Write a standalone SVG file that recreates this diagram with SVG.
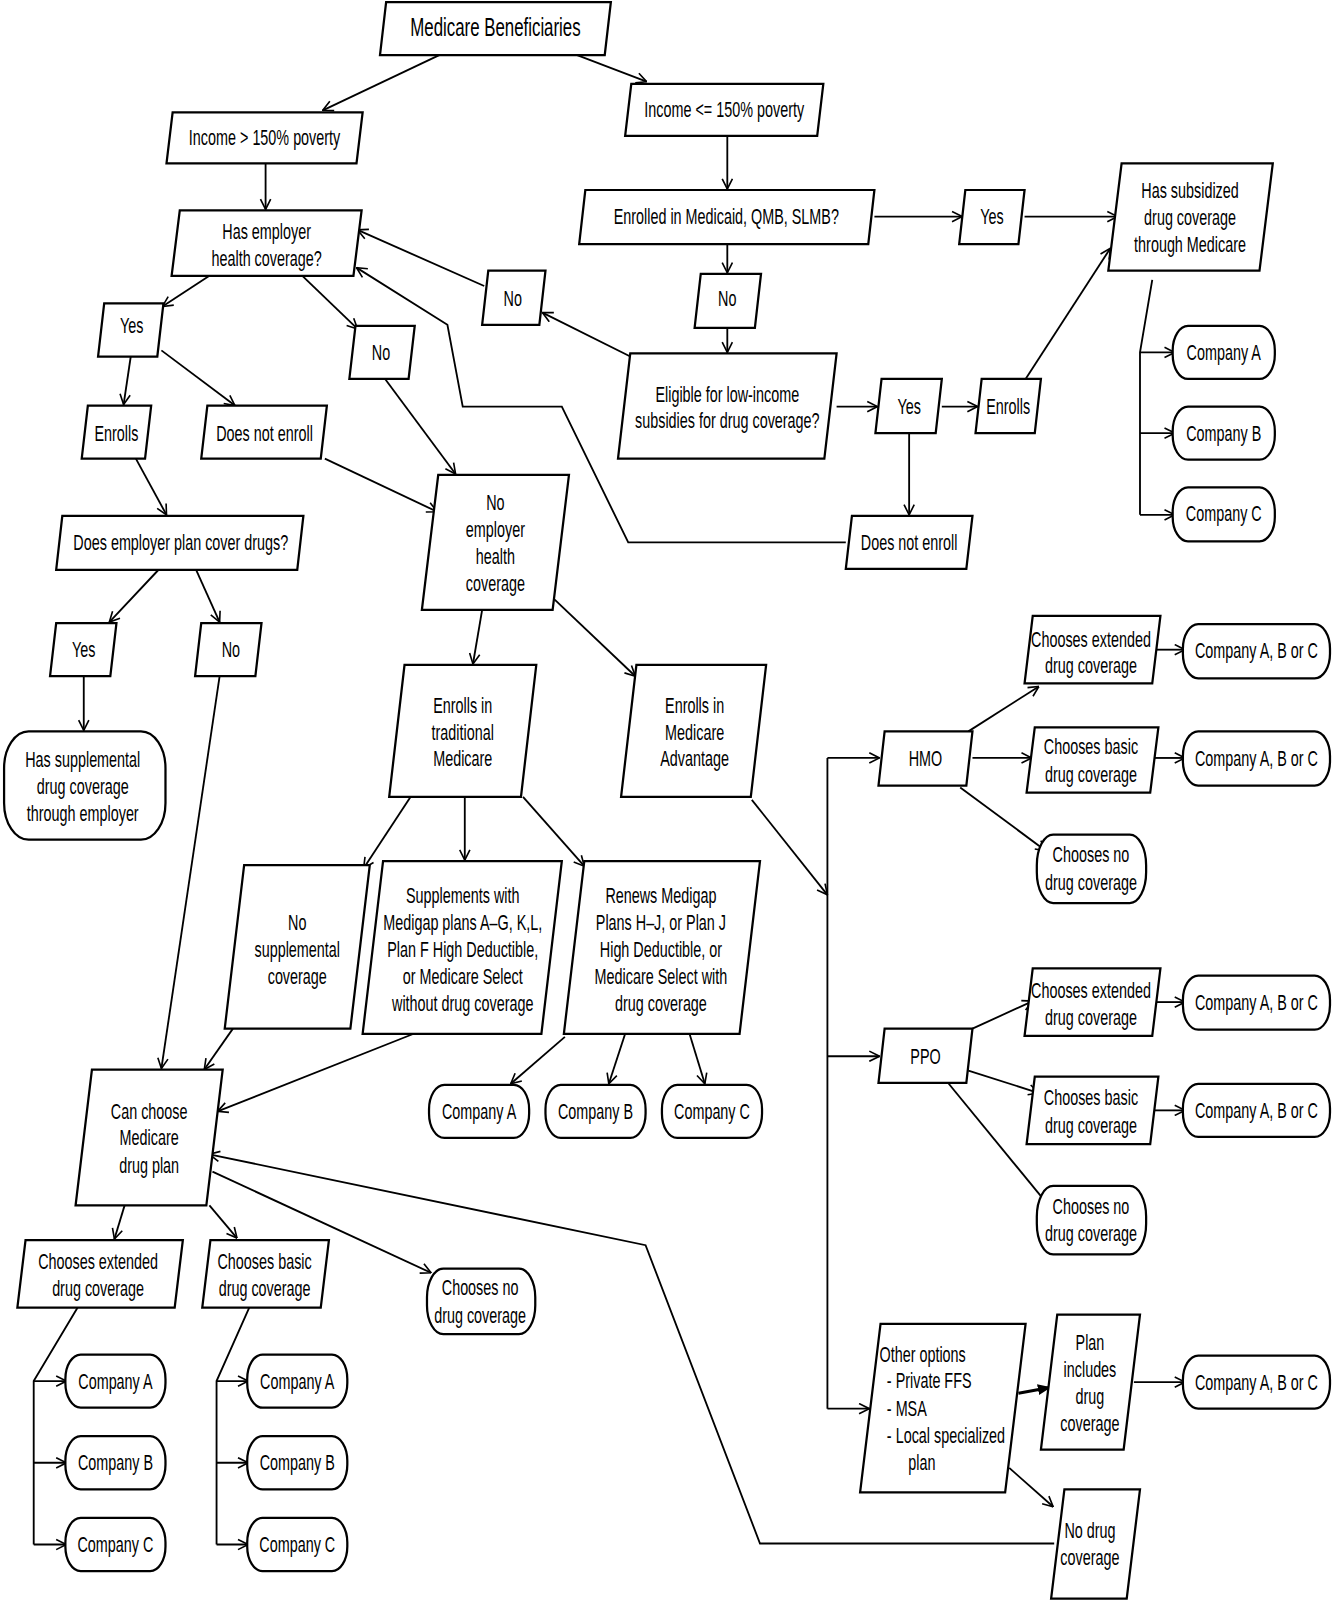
<svg xmlns="http://www.w3.org/2000/svg" width="1333" height="1600" viewBox="0 0 1333 1600">
<style>
.n{fill:#fff;stroke:#000;stroke-width:2.2;stroke-linejoin:miter}
.c{fill:none;stroke:#000;stroke-width:1.8;marker-end:url(#a)}
.l{fill:none;stroke:#000;stroke-width:1.8}
.f{fill:none;stroke:#000;stroke-width:3;marker-end:url(#b)}
text{font-family:"Liberation Sans",Arial,sans-serif;font-size:21.5px;text-anchor:middle;dominant-baseline:central;fill:#000}
.big{font-size:25px}
.s{text-anchor:start}
</style>
<defs>
<marker id="a" viewBox="0 0 12 12" refX="11.5" refY="6" markerWidth="12" markerHeight="12" markerUnits="userSpaceOnUse" orient="auto">
<path d="M1.5,1 L11.5,6 L1.5,11" fill="none" stroke="#000" stroke-width="1.6"/>
</marker>
<marker id="b" viewBox="0 0 12 12" refX="12" refY="6" markerWidth="13" markerHeight="13" markerUnits="userSpaceOnUse" orient="auto">
<path d="M0,1 L12,6 L0,11 Z" fill="#000"/>
</marker>
</defs>
<rect width="1333" height="1600" fill="#fff"/>
<g transform="scale(1.0215)">
<g id="connectors">
<line class="c" x1="430" y1="54" x2="316" y2="108"/>
<line class="c" x1="565" y1="54" x2="633" y2="80"/>
<line class="c" x1="260" y1="160" x2="260" y2="205"/>
<line class="c" x1="712" y1="133" x2="712" y2="185"/>
<line class="c" x1="856" y1="212" x2="942" y2="212"/>
<line class="c" x1="1003" y1="212" x2="1094" y2="212"/>
<line class="c" x1="712" y1="239" x2="712" y2="267"/>
<line class="c" x1="712" y1="321" x2="712" y2="345"/>
<line class="c" x1="619" y1="350" x2="531" y2="306"/>
<line class="c" x1="474" y1="280" x2="350" y2="225"/>
<path class="c" d="M828,531 L615,531 L550,398 L453,398 L438,318 L349,262"/>
<line class="c" x1="819" y1="398" x2="859" y2="398"/>
<line class="c" x1="922" y1="398" x2="957" y2="398"/>
<line class="c" x1="1004" y1="371" x2="1087" y2="243"/>
<line class="c" x1="890" y1="424" x2="890" y2="504"/>
<line class="c" x1="205" y1="270" x2="159" y2="300"/>
<line class="c" x1="296" y1="270" x2="350" y2="322"/>
<line class="c" x1="128" y1="349" x2="121" y2="396"/>
<line class="c" x1="158" y1="343" x2="230" y2="397"/>
<line class="c" x1="377" y1="371" x2="446" y2="464"/>
<line class="c" x1="133" y1="449" x2="163" y2="504"/>
<line class="c" x1="318" y1="449" x2="428" y2="501"/>
<line class="c" x1="155" y1="558" x2="107" y2="609"/>
<line class="c" x1="192" y1="558" x2="215" y2="609"/>
<line class="c" x1="82" y1="662" x2="82" y2="715"/>
<line class="c" x1="215" y1="662" x2="158" y2="1046"/>
<line class="c" x1="472" y1="597" x2="463" y2="650"/>
<line class="c" x1="543" y1="587" x2="622" y2="662"/>
<line class="c" x1="402" y1="780" x2="356" y2="850"/>
<line class="c" x1="455" y1="780" x2="455" y2="842"/>
<line class="c" x1="512" y1="780" x2="572" y2="848"/>
<line class="c" x1="736" y1="783" x2="810" y2="876"/>
<line class="l" x1="810" y1="742" x2="810" y2="1379"/>
<line class="c" x1="810" y1="742" x2="861" y2="742"/>
<line class="c" x1="810" y1="1034" x2="861" y2="1034"/>
<line class="c" x1="810" y1="1379" x2="851" y2="1379"/>
<line class="c" x1="948" y1="716" x2="1017" y2="672"/>
<line class="c" x1="952" y1="742" x2="1010" y2="742"/>
<line class="c" x1="940" y1="771" x2="1024" y2="833"/>
<line class="c" x1="1131" y1="636" x2="1160" y2="636"/>
<line class="c" x1="1130" y1="742" x2="1160" y2="742"/>
<line class="c" x1="952" y1="1007" x2="1011" y2="980"/>
<line class="c" x1="948" y1="1048" x2="1017" y2="1070"/>
<line class="c" x1="928" y1="1060" x2="1028" y2="1182"/>
<line class="c" x1="1131" y1="981" x2="1160" y2="981"/>
<line class="c" x1="1130" y1="1087" x2="1160" y2="1087"/>
<line class="f" x1="997" y1="1364" x2="1029" y2="1358"/>
<line class="c" x1="1110" y1="1353" x2="1160" y2="1353"/>
<line class="c" x1="988" y1="1437" x2="1031" y2="1475"/>
<path class="c" d="M1032,1511 L744,1511 L632,1219 L205,1130"/>
<line class="c" x1="405" y1="1012" x2="213" y2="1088"/>
<line class="c" x1="228" y1="1007" x2="200" y2="1047"/>
<line class="c" x1="553" y1="1015" x2="500" y2="1061"/>
<line class="c" x1="612" y1="1012" x2="596" y2="1061"/>
<line class="c" x1="675" y1="1012" x2="690" y2="1061"/>
<path class="l" d="M1128,274 L1116,345 L1116,504"/>
<line class="c" x1="1116" y1="345" x2="1150" y2="345"/>
<line class="c" x1="1116" y1="424" x2="1150" y2="424"/>
<line class="c" x1="1116" y1="504" x2="1150" y2="504"/>
<line class="c" x1="122" y1="1180" x2="112" y2="1213"/>
<line class="c" x1="205" y1="1180" x2="232" y2="1212"/>
<line class="c" x1="208" y1="1147" x2="422" y2="1246"/>
<path class="l" d="M76,1280 L33,1352 L33,1512"/>
<line class="c" x1="33" y1="1352" x2="65" y2="1352"/>
<line class="c" x1="33" y1="1432" x2="65" y2="1432"/>
<line class="c" x1="33" y1="1512" x2="65" y2="1512"/>
<path class="l" d="M244,1280 L212,1352 L212,1512"/>
<line class="c" x1="212" y1="1352" x2="243" y2="1352"/>
<line class="c" x1="212" y1="1432" x2="243" y2="1432"/>
<line class="c" x1="212" y1="1512" x2="243" y2="1512"/>
</g>

<g id="n1"><polygon class="n" points="378,2 598,2 592,54 372,54"/><text class="big" transform="matrix(0.66 0 0 1 485 0)" x="0" y="27">Medicare Beneficiaries</text></g>
<g id="n2"><polygon class="n" points="169,110 355,110 349,160 163,160"/><text transform="matrix(0.655 0 0 1 259 0)" x="0" y="134">Income &gt; 150% poverty</text></g>
<g id="n3"><polygon class="n" points="618,82 806,82 800,133 612,133"/><text transform="matrix(0.655 0 0 1 709 0)" x="0" y="107">Income &lt;= 150% poverty</text></g>
<g id="n4"><polygon class="n" points="176,206 354,206 346,270 168,270"/><text transform="matrix(0.655 0 0 1 261 0)"><tspan x="0" y="226">Has employer</tspan><tspan x="0" y="252">health coverage?</tspan></text></g>
<g id="n5"><polygon class="n" points="573,186 856,186 850,239 567,239"/><text transform="matrix(0.655 0 0 1 711 0)" x="0" y="212">Enrolled in Medicaid, QMB, SLMB?</text></g>
<g id="n6"><polygon class="n" points="945,186 1003,186 997,239 939,239"/><text transform="matrix(0.655 0 0 1 971 0)" x="0" y="212">Yes</text></g>
<g id="n7"><polygon class="n" points="1098,160 1246,160 1233,265 1085,265"/><text transform="matrix(0.655 0 0 1 1165 0)"><tspan x="0" y="186">Has subsidized</tspan><tspan x="0" y="212">drug coverage</tspan><tspan x="0" y="239">through Medicare</tspan></text></g>
<g id="n8"><polygon class="n" points="686,268 745,268 739,321 680,321"/><text transform="matrix(0.655 0 0 1 712 0)" x="0" y="292">No</text></g>
<g id="n9"><polygon class="n" points="478,265 534,265 528,318 472,318"/><text transform="matrix(0.655 0 0 1 502 0)" x="0" y="292">No</text></g>
<g id="n10"><polygon class="n" points="102,297 160,297 154,349 96,349"/><text transform="matrix(0.655 0 0 1 129 0)" x="0" y="318">Yes</text></g>
<g id="n11"><polygon class="n" points="348,319 406,319 400,371 342,371"/><text transform="matrix(0.655 0 0 1 373 0)" x="0" y="345">No</text></g>
<g id="n12"><polygon class="n" points="617,346 819,346 807,449 605,449"/><text transform="matrix(0.655 0 0 1 712 0)"><tspan x="0" y="385">Eligible for low-income</tspan><tspan x="0" y="411">subsidies for drug coverage?</tspan></text></g>
<g id="n13"><polygon class="n" points="863,371 922,371 916,424 857,424"/><text transform="matrix(0.655 0 0 1 890 0)" x="0" y="398">Yes</text></g>
<g id="n14"><polygon class="n" points="961,371 1019,371 1013,424 955,424"/><text transform="matrix(0.655 0 0 1 987 0)" x="0" y="398">Enrolls</text></g>
<g id="n15"><rect class="n" x="1148" y="319" width="100" height="52" rx="15" ry="24"/><text transform="matrix(0.655 0 0 1 1198 0)" x="0" y="345">Company A</text></g>
<g id="n16"><rect class="n" x="1148" y="398" width="100" height="52" rx="15" ry="24"/><text transform="matrix(0.655 0 0 1 1198 0)" x="0" y="424">Company B</text></g>
<g id="n17"><rect class="n" x="1148" y="477" width="100" height="53" rx="15" ry="24"/><text transform="matrix(0.655 0 0 1 1198 0)" x="0" y="503">Company C</text></g>
<g id="n18"><polygon class="n" points="86,397 148,397 142,449 80,449"/><text transform="matrix(0.655 0 0 1 114 0)" x="0" y="424">Enrolls</text></g>
<g id="n19"><polygon class="n" points="203,397 320,397 314,449 197,449"/><text transform="matrix(0.655 0 0 1 259 0)" x="0" y="424">Does not enroll</text></g>
<g id="n20"><polygon class="n" points="834,505 952,505 946,557 828,557"/><text transform="matrix(0.655 0 0 1 890 0)" x="0" y="531">Does not enroll</text></g>
<g id="n21"><polygon class="n" points="61,505 297,505 291,558 55,558"/><text transform="matrix(0.655 0 0 1 177 0)" x="0" y="531">Does employer plan cover drugs?</text></g>
<g id="n22"><polygon class="n" points="429,465 557,465 541,597 413,597"/><text transform="matrix(0.655 0 0 1 485 0)"><tspan x="0" y="491">No</tspan><tspan x="0" y="518">employer</tspan><tspan x="0" y="544">health</tspan><tspan x="0" y="570">coverage</tspan></text></g>
<g id="n23"><polygon class="n" points="55,610 114,610 108,662 49,662"/><text transform="matrix(0.655 0 0 1 82 0)" x="0" y="636">Yes</text></g>
<g id="n24"><polygon class="n" points="197,610 256,610 250,662 191,662"/><text transform="matrix(0.655 0 0 1 226 0)" x="0" y="636">No</text></g>
<g id="n25"><polygon class="n" points="396,651 525,651 510,780 381,780"/><text transform="matrix(0.655 0 0 1 453 0)"><tspan x="0" y="690">Enrolls in</tspan><tspan x="0" y="716">traditional</tspan><tspan x="0" y="742">Medicare</tspan></text></g>
<g id="n26"><polygon class="n" points="623,651 750,651 735,780 608,780"/><text transform="matrix(0.655 0 0 1 680 0)"><tspan x="0" y="690">Enrolls in</tspan><tspan x="0" y="716">Medicare</tspan><tspan x="0" y="742">Advantage</tspan></text></g>
<g id="n27"><rect class="n" x="4" y="716" width="158" height="106" rx="24" ry="36"/><text transform="matrix(0.655 0 0 1 81 0)"><tspan x="0" y="743">Has supplemental</tspan><tspan x="0" y="769">drug coverage</tspan><tspan x="0" y="796">through employer</tspan></text></g>
<g id="n28"><polygon class="n" points="1011,603 1136,603 1128,669 1003,669"/><text transform="matrix(0.655 0 0 1 1068 0)"><tspan x="0" y="625">Chooses extended</tspan><tspan x="0" y="651">drug coverage</tspan></text></g>
<g id="n29"><rect class="n" x="1158" y="611" width="144" height="53" rx="15" ry="24"/><text transform="matrix(0.655 0 0 1 1230 0)" x="0" y="637">Company A, B or C</text></g>
<g id="n30"><polygon class="n" points="866,716 952,716 946,769 860,769"/><text transform="matrix(0.655 0 0 1 906 0)" x="0" y="742">HMO</text></g>
<g id="n31"><polygon class="n" points="1013,712 1134,712 1126,776 1005,776"/><text transform="matrix(0.655 0 0 1 1068 0)"><tspan x="0" y="730">Chooses basic</tspan><tspan x="0" y="757">drug coverage</tspan></text></g>
<g id="n32"><rect class="n" x="1158" y="716" width="144" height="53" rx="15" ry="24"/><text transform="matrix(0.655 0 0 1 1230 0)" x="0" y="742">Company A, B or C</text></g>
<g id="n33"><rect class="n" x="1015" y="817" width="107" height="67" rx="16" ry="30"/><text transform="matrix(0.655 0 0 1 1068 0)"><tspan x="0" y="836">Chooses no</tspan><tspan x="0" y="863">drug coverage</tspan></text></g>
<g id="n34"><polygon class="n" points="239,847 362,847 343,1007 220,1007"/><text transform="matrix(0.655 0 0 1 291 0)"><tspan x="0" y="902">No</tspan><tspan x="0" y="929">supplemental</tspan><tspan x="0" y="955">coverage</tspan></text></g>
<g id="n35"><polygon class="n" points="375,843 550,843 530,1012 355,1012"/><text transform="matrix(0.655 0 0 1 453 0)"><tspan x="0" y="876">Supplements with</tspan><tspan x="0" y="902">Medigap plans A–G, K,L,</tspan><tspan x="0" y="929">Plan F High Deductible,</tspan><tspan x="0" y="955">or Medicare Select</tspan><tspan x="0" y="982">without drug coverage</tspan></text></g>
<g id="n36"><polygon class="n" points="572,843 744,843 724,1012 552,1012"/><text transform="matrix(0.655 0 0 1 647 0)"><tspan x="0" y="876">Renews Medigap</tspan><tspan x="0" y="902">Plans H–J, or Plan J</tspan><tspan x="0" y="929">High Deductible, or</tspan><tspan x="0" y="955">Medicare Select with</tspan><tspan x="0" y="982">drug coverage</tspan></text></g>
<g id="n37"><polygon class="n" points="1011,948 1136,948 1128,1014 1003,1014"/><text transform="matrix(0.655 0 0 1 1068 0)"><tspan x="0" y="969">Chooses extended</tspan><tspan x="0" y="995">drug coverage</tspan></text></g>
<g id="n38"><rect class="n" x="1158" y="955" width="144" height="53" rx="15" ry="24"/><text transform="matrix(0.655 0 0 1 1230 0)" x="0" y="981">Company A, B or C</text></g>
<g id="n39"><polygon class="n" points="866,1007 952,1007 946,1060 860,1060"/><text transform="matrix(0.655 0 0 1 906 0)" x="0" y="1034">PPO</text></g>
<g id="n40"><polygon class="n" points="1013,1054 1134,1054 1126,1120 1005,1120"/><text transform="matrix(0.655 0 0 1 1068 0)"><tspan x="0" y="1074">Chooses basic</tspan><tspan x="0" y="1101">drug coverage</tspan></text></g>
<g id="n41"><rect class="n" x="1158" y="1061" width="144" height="52" rx="15" ry="24"/><text transform="matrix(0.655 0 0 1 1230 0)" x="0" y="1087">Company A, B or C</text></g>
<g id="n42"><rect class="n" x="1015" y="1161" width="107" height="67" rx="16" ry="30"/><text transform="matrix(0.655 0 0 1 1068 0)"><tspan x="0" y="1180">Chooses no</tspan><tspan x="0" y="1207">drug coverage</tspan></text></g>
<g id="n43"><polygon class="n" points="90,1047 218,1047 202,1180 74,1180"/><text transform="matrix(0.655 0 0 1 146 0)"><tspan x="0" y="1087">Can choose</tspan><tspan x="0" y="1113">Medicare</tspan><tspan x="0" y="1140">drug plan</tspan></text></g>
<g id="n44"><rect class="n" x="420" y="1062" width="98" height="52" rx="15" ry="24"/><text transform="matrix(0.655 0 0 1 469 0)" x="0" y="1088">Company A</text></g>
<g id="n45"><rect class="n" x="534" y="1062" width="98" height="52" rx="15" ry="24"/><text transform="matrix(0.655 0 0 1 583 0)" x="0" y="1088">Company B</text></g>
<g id="n46"><rect class="n" x="648" y="1062" width="98" height="52" rx="15" ry="24"/><text transform="matrix(0.655 0 0 1 697 0)" x="0" y="1088">Company C</text></g>
<g id="n47"><polygon class="n" points="25,1214 179,1214 171,1280 17,1280"/><text transform="matrix(0.655 0 0 1 96 0)"><tspan x="0" y="1234">Chooses extended</tspan><tspan x="0" y="1261">drug coverage</tspan></text></g>
<g id="n48"><polygon class="n" points="206,1214 322,1214 314,1280 198,1280"/><text transform="matrix(0.655 0 0 1 259 0)"><tspan x="0" y="1234">Chooses basic</tspan><tspan x="0" y="1261">drug coverage</tspan></text></g>
<g id="n49"><rect class="n" x="418" y="1242" width="106" height="64" rx="16" ry="28"/><text transform="matrix(0.655 0 0 1 470 0)"><tspan x="0" y="1260">Chooses no</tspan><tspan x="0" y="1287">drug coverage</tspan></text></g>
<g id="n50"><rect class="n" x="64" y="1326" width="98" height="52" rx="15" ry="24"/><text transform="matrix(0.655 0 0 1 113 0)" x="0" y="1352">Company A</text></g>
<g id="n51"><rect class="n" x="64" y="1406" width="98" height="52" rx="15" ry="24"/><text transform="matrix(0.655 0 0 1 113 0)" x="0" y="1432">Company B</text></g>
<g id="n52"><rect class="n" x="64" y="1486" width="98" height="52" rx="15" ry="24"/><text transform="matrix(0.655 0 0 1 113 0)" x="0" y="1512">Company C</text></g>
<g id="n53"><rect class="n" x="242" y="1326" width="98" height="52" rx="15" ry="24"/><text transform="matrix(0.655 0 0 1 291 0)" x="0" y="1352">Company A</text></g>
<g id="n54"><rect class="n" x="242" y="1406" width="98" height="52" rx="15" ry="24"/><text transform="matrix(0.655 0 0 1 291 0)" x="0" y="1432">Company B</text></g>
<g id="n55"><rect class="n" x="242" y="1486" width="98" height="52" rx="15" ry="24"/><text transform="matrix(0.655 0 0 1 291 0)" x="0" y="1512">Company C</text></g>
<g id="n56"><polygon class="n" points="862,1296 1004,1296 984,1461 842,1461"/><text class="s" transform="matrix(0.655 0 0 1 861 0)"><tspan x="0" y="1325">Other options</tspan><tspan x="11" y="1351">- Private FFS</tspan><tspan x="11" y="1378">- MSA</tspan><tspan x="11" y="1405">- Local specialized</tspan><tspan x="43" y="1431">plan</tspan></text></g>
<g id="n57"><polygon class="n" points="1035,1287 1116,1287 1100,1419 1019,1419"/><text transform="matrix(0.655 0 0 1 1067 0)"><tspan x="0" y="1313">Plan</tspan><tspan x="0" y="1340">includes</tspan><tspan x="0" y="1366">drug</tspan><tspan x="0" y="1393">coverage</tspan></text></g>
<g id="n58"><rect class="n" x="1158" y="1327" width="144" height="52" rx="15" ry="24"/><text transform="matrix(0.655 0 0 1 1230 0)" x="0" y="1353">Company A, B or C</text></g>
<g id="n59"><polygon class="n" points="1042,1458 1116,1458 1103,1565 1029,1565"/><text transform="matrix(0.655 0 0 1 1067 0)"><tspan x="0" y="1498">No drug</tspan><tspan x="0" y="1524">coverage</tspan></text></g>
</g>
</svg>
